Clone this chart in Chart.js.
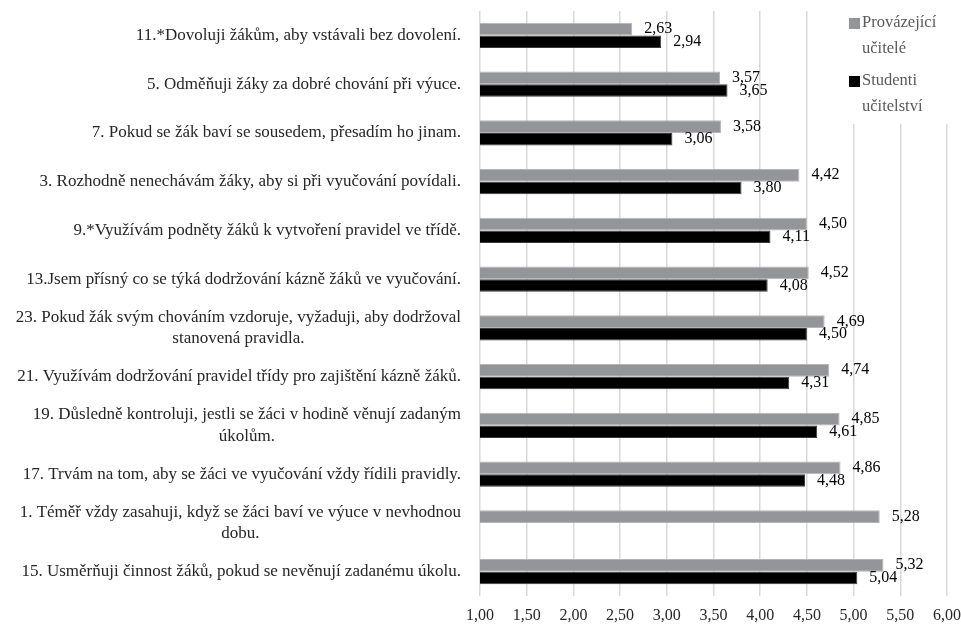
<!DOCTYPE html>
<html>
<head>
<meta charset="utf-8">
<script src="https://cdn.jsdelivr.net/npm/chart.js@4"></script>
<style>
  html, body { margin: 0; padding: 0; background: #fff; }
  #wrap { width: 961px; height: 626px; }
</style>
</head>
<body>
<div id="wrap"><canvas id="chart1"></canvas></div>
<script>
const categories = [
  ['11.*Dovoluji žákům, aby vstávali bez dovolení.'],
  ['5. Odměňuji žáky za dobré chování při výuce.'],
  ['7. Pokud se žák baví se sousedem, přesadím ho jinam.'],
  ['3. Rozhodně nenechávám žáky, aby si při vyučování povídali.'],
  ['9.*Využívám podněty žáků k vytvoření pravidel ve třídě.'],
  ['13.Jsem přísný co se týká dodržování kázně žáků ve vyučování.'],
  ['23. Pokud žák svým chováním vzdoruje, vyžaduji, aby dodržoval', 'stanovená pravidla.'],
  ['21. Využívám dodržování pravidel třídy pro zajištění kázně žáků.'],
  ['19. Důsledně kontroluji, jestli se žáci v hodině věnují zadaným', 'úkolům.'],
  ['17. Trvám na tom, aby se žáci ve vyučování vždy řídili pravidly.'],
  ['1. Téměř vždy zasahuji, když se žáci baví ve výuce v nevhodnou', 'dobu.'],
  ['15. Usměrňuji činnost žáků, pokud se nevěnují zadanému úkolu.']
]
const provazejici = [2.63, 3.57, 3.58, 4.42, 4.50, 4.52, 4.69, 4.74, 4.85, 4.86, 5.28, 5.32]
const studenti = [2.94, 3.65, 3.06, 3.80, 4.11, 4.08, 4.50, 4.31, 4.61, 4.48, null, 5.04]
const seriesNames = [['Provázející', 'učitelé'], ['Studenti', 'učitelství']]
const xMin = 1, xMax = 6, xStep = 0.5

const FONT = '"Liberation Serif", "DejaVu Serif", serif'
const fmt = v => v.toFixed(2).replace('.', ',')

// category labels: block right aligned, lines centred inside the block
const catLabels = {
  id: 'catLabels',
  afterDraw(chart) {
    const ctx = chart.ctx, y = chart.scales.y
    const right = chart.chartArea.left - 19
    ctx.save()
    ctx.font = '17px ' + FONT
    ctx.fillStyle = '#262626'
    ctx.textAlign = 'center'
    ctx.textBaseline = 'middle'
    categories.forEach((lines, i) => {
      const w = Math.max(...lines.map(l => ctx.measureText(l).width))
      const cy = y.getPixelForTick(i)
      const lh = 21.5
      lines.forEach((l, j) => {
        ctx.fillText(l, right - w / 2, cy + (j - (lines.length - 1) / 2) * lh)
      })
    })
    ctx.restore()
  }
}

// value labels next to bar ends
const valueLabels = {
  id: 'valueLabels',
  afterDatasetsDraw(chart) {
    const ctx = chart.ctx
    ctx.save()
    ctx.font = '16px ' + FONT
    ctx.fillStyle = '#000'
    ctx.textAlign = 'left'
    ctx.textBaseline = 'middle'
    chart.data.datasets.forEach((ds, di) => {
      chart.getDatasetMeta(di).data.forEach((bar, i) => {
        const v = ds.data[i]
        if (v == null) return
        ctx.fillText(fmt(v), bar.x + 12, bar.y)
      })
    })
    ctx.restore()
  }
}

// legend box in the top right corner, over the grid
const boxLegend = {
  id: 'boxLegend',
  afterDraw(chart) {
    const ctx = chart.ctx
    const x0 = chart.chartArea.right - 130
    ctx.save()
    ctx.fillStyle = '#fff'
    ctx.fillRect(x0, 0, chart.width - x0, 124)
    ctx.font = '16.5px ' + FONT
    ctx.textBaseline = 'middle'
    ctx.textAlign = 'left'
    chart.data.datasets.forEach((ds, i) => {
      const top = 23 + i * 58
      ctx.fillStyle = ds.backgroundColor
      ctx.fillRect(x0 + 32, top - 5, 11, 11)
      ctx.fillStyle = '#595959'
      seriesNames[i].forEach((l, j) => ctx.fillText(l, x0 + 45, top + j * 26))
    })
    ctx.restore()
  }
}

new Chart('chart1', {
  type: 'bar',
  data: {
    labels: categories,
    datasets: [
      {
        label: seriesNames[0].join(' '),
        data: provazejici,
        backgroundColor: '#939598',
        borderColor: '#b4b5b8',
        borderWidth: 1
      },
      {
        label: seriesNames[1].join(' '),
        data: studenti,
        backgroundColor: '#000000',
        borderColor: '#3a3a3a',
        borderWidth: 1
      }
    ]
  },
  options: {
    indexAxis: 'y',
    responsive: true,
    maintainAspectRatio: false,
    animation: false,
    layout: { padding: { top: 11, bottom: 0, right: 0, left: 0 } },
    datasets: {
      bar: { categoryPercentage: 0.52, barPercentage: 1 }
    },
    scales: {
      x: {
        min: xMin,
        max: xMax,
        border: { display: false },
        grid: { color: '#d9d9d9', lineWidth: 1.5, drawTicks: false },
        ticks: {
          stepSize: xStep,
          padding: 10,
          color: '#262626',
          font: { family: FONT, size: 16 },
          callback: v => fmt(v)
        },
        afterFit: s => { s.height = 30; s.paddingRight = 14 }
      },
      y: {
        border: { display: false },
        grid: { display: false },
        ticks: { display: false },
        afterFit: s => { s.width = 480 }
      }
    },
    plugins: {
      legend: { display: false },
      tooltip: { enabled: false }
    }
  },
  plugins: [catLabels, valueLabels, boxLegend]
})
</script>
</body>
</html>
